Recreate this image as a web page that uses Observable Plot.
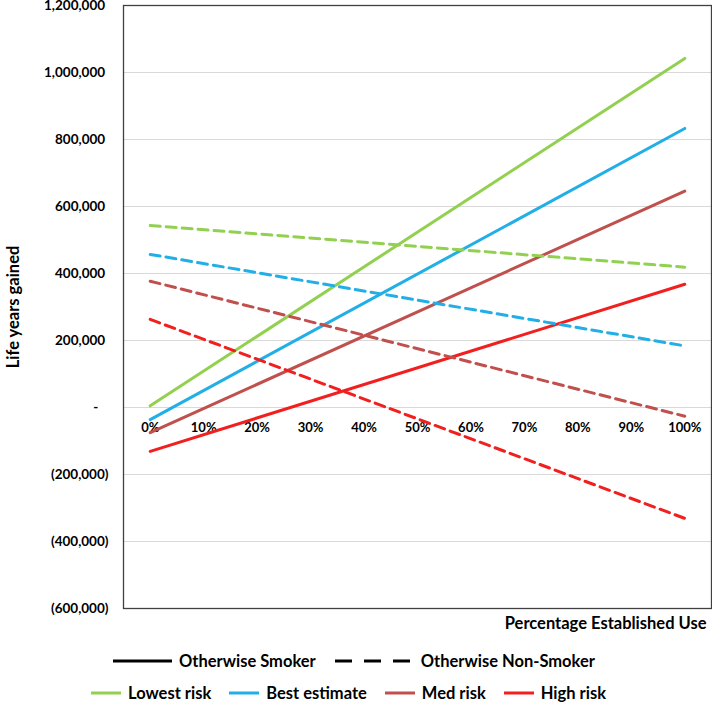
<!DOCTYPE html>
<html>
<head>
<meta charset="utf-8">
<script src="https://cdn.jsdelivr.net/npm/d3@7"></script>
<script src="https://cdn.jsdelivr.net/npm/@observablehq/plot@0.6"></script>
<style>
  body { margin: 0; background: #fff; font-family: Lato, "Open Sans", sans-serif; }
  #chart { position: relative; width: 712px; }
  g[aria-label="y-axis label"] text { font-size: 16.5px; }
  .legend { position: relative; width: 712px; height: 63px; font-weight: bold; font-size: 16.5px; color: #000; }
  .row { position: absolute; display: flex; align-items: center; height: 20px; white-space: nowrap; }
  .row svg { display: block; }
</style>
</head>
<body>
<div id="chart"></div>
<div class="legend" id="legend"></div>
<script>
// ---- data ----
const series = ["Lowest risk", "Best estimate", "Med risk", "High risk"];
const colors = ["#92D050", "#22AEE6", "#C0504D", "#F21F1F"];
const pct = [0, 100];
const smokerStart = [5000, -36000, -75000, -131000];
const smokerEnd = [1042000, 833000, 646000, 368000];
const nonSmokerStart = [543000, 457000, 377000, 263000];
const nonSmokerEnd = [419000, 184000, -26000, -331000];
const yTicks = [-600000, -400000, -200000, 0, 200000, 400000, 600000, 800000, 1000000, 1200000];
const xTicks = [0, 10, 20, 30, 40, 50, 60, 70, 80, 90, 100];
const groups = ["Otherwise Smoker", "Otherwise Non-Smoker"];

const smokerRows = [];
const nonSmokerRows = [];
series.forEach((s, i) => {
  smokerRows.push({series: s, pct: pct[0], value: smokerStart[i]});
  smokerRows.push({series: s, pct: pct[1], value: smokerEnd[i]});
  nonSmokerRows.push({series: s, pct: pct[0], value: nonSmokerStart[i]});
  nonSmokerRows.push({series: s, pct: pct[1], value: nonSmokerEnd[i]});
});

const fmt = d3.format(",");
function yFormat(d) {
  if (d === 0) return "-\u2002\u2005";
  if (d < 0) return "(" + fmt(-d) + ")";
  return fmt(d) + "\u2005";
}

const chart = Plot.plot({
  width: 712,
  height: 640,
  marginLeft: 123,
  marginRight: 1,
  marginTop: 5,
  marginBottom: 32,
  style: {fontFamily: "Lato, 'Open Sans', sans-serif", color: "#000", background: "#fff"},
  x: {domain: [-5, 105], axis: null},
  y: {domain: [-600000, 1200000]},
  color: {domain: series, range: colors},
  marks: [
    Plot.gridY(yTicks, {stroke: "#d9d9d9", strokeOpacity: 1, strokeWidth: 1}),
    Plot.axisY(yTicks, {
      tickSize: 0, tickPadding: 15, tickFormat: yFormat,
      fontSize: 13.5, fontWeight: "bold",
      label: "Life years gained", labelAnchor: "center", labelArrow: "none", labelOffset: 116
    }),
    Plot.text(xTicks, {x: d => d, y: () => 0, text: d => d + "%", dy: 20, fontSize: 13, fontWeight: "bold", fill: "#000"}),
    Plot.line(smokerRows, {x: "pct", y: "value", z: "series", stroke: "series", strokeWidth: 3}),
    Plot.line(nonSmokerRows, {x: "pct", y: "value", z: "series", stroke: "series", strokeWidth: 3, strokeDasharray: "10,6"}),
    Plot.frame({stroke: "#404040", strokeWidth: 1.3}),
    Plot.text(["Percentage Established Use"], {frameAnchor: "bottom-right", dx: -5, dy: 15, lineAnchor: "middle", text: d => d, fontSize: 16.5, fontWeight: "bold", fill: "#000", textAnchor: "end"})
  ]
});
document.getElementById("chart").appendChild(chart);

// ---- legend ----
const legend = document.getElementById("legend");
function swatch(w, color, dash) {
  const ns = "http://www.w3.org/2000/svg";
  const svg = document.createElementNS(ns, "svg");
  svg.setAttribute("width", w);
  svg.setAttribute("height", 6);
  const l = document.createElementNS(ns, "line");
  l.setAttribute("x1", 0); l.setAttribute("x2", w);
  l.setAttribute("y1", 3); l.setAttribute("y2", 3);
  l.setAttribute("stroke", color);
  l.setAttribute("stroke-width", 3);
  if (dash) l.setAttribute("stroke-dasharray", dash);
  svg.appendChild(l);
  return svg;
}
function row(top, left, items) {
  const r = document.createElement("div");
  r.className = "row";
  r.style.top = top + "px";
  r.style.left = left + "px";
  items.forEach((it, i) => {
    const sw = swatch(it.w, it.color, it.dash);
    if (i > 0) sw.style.marginLeft = it.gapBefore + "px";
    r.appendChild(sw);
    const t = document.createElement("span");
    t.textContent = it.label;
    t.style.marginLeft = it.gapText + "px";
    r.appendChild(t);
  });
  legend.appendChild(r);
}
row(11, 113, [
  {label: groups[0], w: 59, color: "#000", gapText: 7},
  {label: groups[1], w: 75, color: "#000", dash: "17,12", gapBefore: 19, gapText: 11}
]);
row(43, 91, series.map((s, i) => ({label: s, w: 30, color: colors[i], gapText: 7, gapBefore: 18})));
</script>
</body>
</html>
